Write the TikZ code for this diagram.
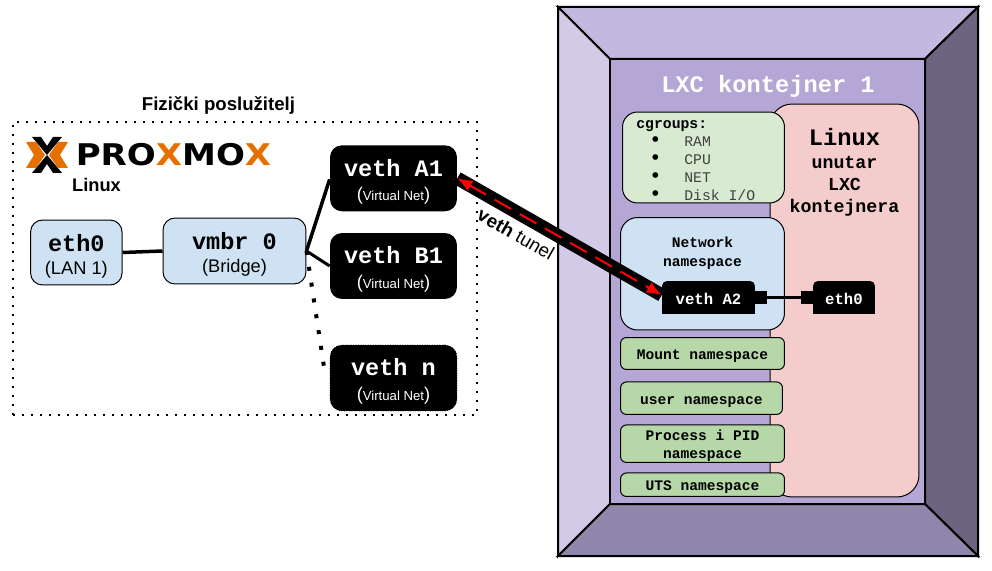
\documentclass[tikz,border=0pt]{standalone}
\usepackage{fontspec}
\setmainfont{Liberation Sans}
\setmonofont{Liberation Mono}
\newfontfamily\logofont{DejaVu Sans}
\usepackage{xcolor}
\usetikzlibrary{arrows.meta, positioning}
\definecolor{frameinner}{HTML}{B4A7D6}
\definecolor{frametop}{HTML}{C3B8DE}
\definecolor{frameleft}{HTML}{D2CAE6}
\definecolor{frameright}{HTML}{6C6480}
\definecolor{framebottom}{HTML}{9086AB}
\definecolor{lightblue}{HTML}{CFE2F3}
\definecolor{lightgreen}{HTML}{D9EAD3}
\definecolor{midgreen}{HTML}{B6D7A8}
\definecolor{lightpink}{HTML}{F4CCCC}
\definecolor{proxorange}{HTML}{E57000}
\newcommand{\vnet}{{\fontsize{10.4}{12}\selectfont(}{\fontsize{7.5}{12}\selectfont Virtual Net}{\fontsize{10.4}{12}\selectfont)}}
\newcommand{\cgitem}[1]{\hspace*{0.28cm}\makebox[0.2cm]{\fontsize{12}{10}\selectfont\textbullet}\hspace*{0.48cm}\textcolor{black!75}{#1}}

\begin{document}
\begin{tikzpicture}[
    x=0.02cm, y=-0.02cm,
    hostbox/.style={draw, fill=lightblue, rounded corners=0.24cm, line width=0.02cm, align=center, inner sep=0pt, execute at begin node={\rule{0pt}{0.94cm}}},
    vethbox/.style={fill=black, text=white, rounded corners=0.24cm, minimum width=2.54cm, minimum height=1.32cm, align=center, inner sep=0pt, execute at begin node={\rule{0pt}{0.97cm}}},
    nsbox/.style={draw, fill=midgreen, rounded corners=0.12cm, line width=0.02cm, align=center, inner sep=0pt, font=\ttfamily\bfseries\fontsize{8.3}{10.4}\selectfont, execute at begin node={\rule{0pt}{0.31cm}}},
    portbox/.style={fill=black, minimum width=0.24cm, minimum height=0.26cm, inner sep=0pt},
    smallveth/.style={fill=black, text=white, rounded corners=0.1cm, minimum height=0.66cm, inner sep=0pt, font=\ttfamily\bfseries\fontsize{8.9}{11}\selectfont, execute at begin node={\rule{0pt}{0.3cm}}},
    frameline/.style={draw, line width=0.04cm},
    wire/.style={line width=0.07cm}
]
    \useasboundingbox (0,0) rectangle (992,571);

    % okvir kontejnera
    \filldraw[frameline, fill=frametop] (558,7) -- (978,7) -- (925,59) -- (610,59) -- cycle;
    \filldraw[frameline, fill=frameleft] (558,7) -- (610,59) -- (610,504) -- (558,556) -- cycle;
    \filldraw[frameline, fill=frameright] (978,7) -- (925,59) -- (925,504) -- (978,556) -- cycle;
    \filldraw[frameline, fill=framebottom] (558,556) -- (610,504) -- (925,504) -- (978,556) -- cycle;
    \filldraw[frameline, fill=frameinner] (610,59) rectangle (925,504);
    \node[white, font=\ttfamily\bfseries\fontsize{13.5}{16}\selectfont] (lxc) at (768,86) {LXC kontejner 1};

    % Linux unutar kontejnera
    \node[draw, fill=lightpink, rounded corners=0.44cm, line width=0.02cm, minimum width=2.98cm, minimum height=7.86cm, inner sep=0pt] (guest) at (844.5,300.5) {};
    \node[font=\ttfamily\bfseries\fontsize{13.5}{16}\selectfont] (guesttitle) at (844.5,137) {Linux};
    \node[align=center, font=\ttfamily\bfseries\fontsize{10.4}{12.6}\selectfont] (guesttext) at (844.5,186.5) {unutar\\LXC\\kontejnera};

    % cgroups i namespace kutije
    \node[draw, fill=lightgreen, rounded corners=0.3cm, line width=0.02cm, minimum width=3.24cm, minimum height=1.82cm, inner sep=0pt] (cgroups) at (703.5,157.5) {};
    \node[anchor=north west, align=left, inner sep=0pt, font=\ttfamily\fontsize{8.4}{10.25}\selectfont] (cgtext) at (636,120.5)
    {\textbf{cgroups:}\\ \cgitem{RAM}\\ \cgitem{CPU}\\ \cgitem{NET}\\ \cgitem{Disk I/O}};
    \node[draw, fill=lightblue, rounded corners=0.34cm, line width=0.02cm, minimum width=3.28cm, minimum height=2.25cm, inner sep=0pt] (netns) at (702.5,273.75) {};
    \node[align=center, font=\ttfamily\bfseries\fontsize{8.3}{10.8}\selectfont] (netnstext) at (702.5,253) {Network\\namespace};
    \node[nsbox, minimum width=3.28cm, minimum height=0.64cm] (mountns) at (702.5,353.5) {Mount namespace};
    \node[nsbox, minimum width=3.24cm, minimum height=0.65cm] (userns) at (701.5,398.2) {user namespace};
    \node[nsbox, minimum width=3.28cm, minimum height=0.75cm, execute at begin node={\rule{0pt}{0.67cm}}] (pidns) at (702.5,443.7) {Process i PID\\namespace};
    \node[nsbox, minimum width=3.28cm, minimum height=0.47cm] (utsns) at (702.5,484.7) {UTS namespace};

    % veth A2 i eth0 u kontejneru
    \fill (662,300) rectangle (755,314);
    \fill (813,300) rectangle (875,314);
    \node[smallveth, minimum width=1.86cm] (vetha2) at (708.5,297.5) {veth A2};
    \node[smallveth, minimum width=1.24cm] (etha2) at (844,297.5) {eth0};
    \node[portbox] (porta) at (761,297.5) {};
    \node[portbox] (portb) at (807,297.5) {};
    \draw[line width=0.05cm] (porta) -- (portb);

    % fizicki posluzitelj
    \node[font=\bfseries\fontsize{10.6}{13}\selectfont] (hosttitle) at (218.5,105) {Fizički poslužitelj};
    \node[draw, line width=0.04cm, dash pattern=on 0.04cm off 0.14cm, minimum width=9.28cm, minimum height=5.86cm, inner sep=0pt] (host) at (245,268.5) {};

    % logo
    \fill (32,137) -- (41,137) -- (47,146) -- (53,137) -- (62,137) -- (47,155) -- cycle;
    \fill (32,173) -- (41,173) -- (47,164) -- (53,173) -- (62,173) -- (47,155) -- cycle;
    \fill[proxorange] (26,142) -- (36,142) -- (45,155) -- (36,168) -- (26,168) -- (34,155) -- cycle;
    \fill[proxorange] (68,142) -- (58,142) -- (49,155) -- (58,168) -- (68,168) -- (60,155) -- cycle;
    \node[xscale=1.14, transform shape, inner sep=0pt, font=\logofont\bfseries\fontsize{17}{19}\selectfont] (logo) at (173.5,155) {PRO\textcolor{proxorange}{X}MO\textcolor{proxorange}{X}};
    \node[font=\bfseries\fontsize{10.4}{12}\selectfont] (hostlinux) at (96.5,185) {Linux};

    % mrezni uredaji
    \node[hostbox, minimum width=1.83cm, minimum height=1.3cm] (eth) at (76.3,252.5) {{\ttfamily\bfseries\fontsize{13.4}{16}\selectfont eth0}\\[1pt]{\fontsize{10.4}{12}\selectfont (LAN 1)}};
    \node[hostbox, minimum width=2.86cm, minimum height=1.32cm] (vmbr) at (234.5,251) {{\ttfamily\bfseries\fontsize{13.4}{16}\selectfont vmbr 0}\\[1pt]{\fontsize{10.4}{12}\selectfont (Bridge)}};
    \node[vethbox] (vetha) at (393.5,178.3) {{\ttfamily\bfseries\fontsize{13.4}{16}\selectfont veth A1}\\[2pt]\vnet};
    \node[vethbox] (vethb) at (393.5,266) {{\ttfamily\bfseries\fontsize{13.4}{16}\selectfont veth B1}\\[2pt]\vnet};
    \node[vethbox, draw=black, densely dotted] (vethn) at (393.5,378) {{\ttfamily\bfseries\fontsize{13.4}{16}\selectfont veth n}\\[2pt]\vnet};
    \coordinate (dotsend) at (324,367);

    % veze
    \draw[wire] (eth.east) -- (vmbr.west);
    \draw[wire] (vmbr.east) -- ([yshift=-0.02cm]vetha.west);
    \draw[wire, line width=0.06cm] (vmbr.east) -- (vethb.west);
    \draw[line width=0.08cm, dash pattern=on 0.08cm off 0.24cm] (vmbr.east) -- (dotsend);

    % veth tunel
    \draw[line width=0.27cm] (vetha.east) -- ([yshift=0.05cm]vetha2.west);
    \draw[red, line width=0.04cm, dash pattern=on 0.38cm off 0.2cm, {Latex[length=0.3cm,width=0.24cm]}-{Latex[length=0.3cm,width=0.24cm]}] (vetha.east) -- ([yshift=0.05cm]vetha2.west);
    \node[rotate=-29.7, font=\fontsize{10.7}{13}\selectfont] (tuneltext) at (516,234) {\textbf{veth} tunel};
\end{tikzpicture}
\end{document}
